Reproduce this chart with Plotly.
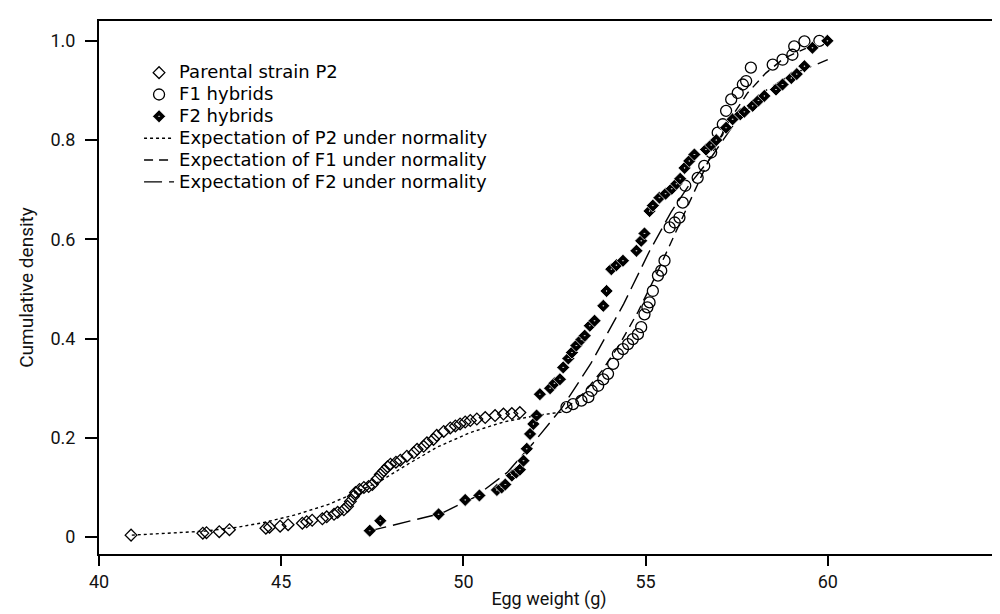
import plotly.graph_objects as go

p2_x = [40.88, 42.85, 42.95, 43.30, 43.58, 44.58, 44.68, 44.97, 45.19, 45.58, 45.70, 45.85,
        46.13, 46.25, 46.45, 46.55, 46.72, 46.82, 46.90, 46.98, 47.04, 47.15, 47.27, 47.40,
        47.50, 47.63, 47.72, 47.82, 47.92, 48.00, 48.15, 48.27, 48.45, 48.64, 48.73, 48.91,
        49.00, 49.18, 49.27, 49.46, 49.64, 49.78, 49.91, 50.05, 50.19, 50.37, 50.60, 50.87,
        51.10, 51.33, 51.55]
p2_y = [0.004, 0.008, 0.009, 0.011, 0.015, 0.018, 0.020, 0.022, 0.025, 0.028, 0.031, 0.034,
        0.037, 0.041, 0.046, 0.050, 0.055, 0.062, 0.072, 0.082, 0.090, 0.096, 0.100, 0.102,
        0.106, 0.117, 0.126, 0.134, 0.142, 0.147, 0.151, 0.155, 0.163, 0.170, 0.177, 0.183,
        0.190, 0.197, 0.205, 0.213, 0.220, 0.224, 0.228, 0.232, 0.235, 0.238, 0.241, 0.245,
        0.248, 0.249, 0.251]

f1_x = [52.83, 53.01, 53.24, 53.43, 53.52, 53.70, 53.84, 53.97, 54.11, 54.24, 54.38, 54.52,
        54.65, 54.79, 54.88, 54.97, 55.05, 55.11, 55.20, 55.34, 55.43, 55.52, 55.66, 55.80,
        55.93, 56.02, 56.09, 56.43, 56.61, 56.80, 56.98, 57.12, 57.21, 57.35, 57.53, 57.67,
        57.76, 57.89, 58.49, 58.76, 59.03, 59.08, 59.36, 59.77]
f1_y = [0.262, 0.268, 0.275, 0.282, 0.295, 0.305, 0.318, 0.329, 0.349, 0.369, 0.379, 0.389,
        0.399, 0.409, 0.423, 0.449, 0.463, 0.473, 0.496, 0.527, 0.537, 0.557, 0.624, 0.634,
        0.644, 0.674, 0.708, 0.724, 0.748, 0.775, 0.815, 0.832, 0.859, 0.882, 0.895, 0.912,
        0.919, 0.946, 0.952, 0.962, 0.972, 0.989, 0.999, 1.000]

f2_x = [47.43, 47.72, 49.32, 50.05, 50.44, 50.92, 51.05, 51.15, 51.33, 51.45, 51.55, 51.65,
        51.74, 51.83, 51.92, 52.01, 52.10, 52.38, 52.50, 52.65, 52.74, 52.88, 52.98, 53.10,
        53.24, 53.33, 53.47, 53.60, 53.84, 53.93, 54.06, 54.20, 54.38, 54.75, 54.88, 54.97,
        55.11, 55.20, 55.38, 55.55, 55.72, 55.85, 55.95, 56.07, 56.20, 56.34, 56.66, 56.80,
        56.94, 57.21, 57.39, 57.60, 57.71, 57.94, 58.10, 58.26, 58.58, 58.76, 59.00, 59.15,
        59.36, 59.58, 59.99]
f2_y = [0.013, 0.033, 0.046, 0.075, 0.084, 0.095, 0.100, 0.106, 0.124, 0.130, 0.136, 0.154,
        0.178, 0.208, 0.228, 0.245, 0.288, 0.300, 0.310, 0.318, 0.342, 0.360, 0.372, 0.386,
        0.398, 0.406, 0.426, 0.436, 0.466, 0.496, 0.540, 0.548, 0.557, 0.577, 0.597, 0.612,
        0.657, 0.668, 0.684, 0.692, 0.702, 0.712, 0.722, 0.744, 0.758, 0.771, 0.781, 0.790,
        0.800, 0.825, 0.842, 0.852, 0.857, 0.869, 0.880, 0.889, 0.902, 0.912, 0.925, 0.933,
        0.949, 0.986, 1.000]

# Expected curves under normality
exp_p2_x = [40.9, 41.8, 42.9, 43.8, 44.5, 45.4, 46.3, 46.9, 47.7, 48.5, 49.3, 50.2, 51.1, 52.0, 52.7]
exp_p2_y = [0.004, 0.007, 0.012, 0.020, 0.029, 0.045, 0.066, 0.085, 0.112, 0.148, 0.182, 0.211,
            0.232, 0.245, 0.252]

exp_f1_x = [52.8, 53.3, 53.8, 54.3, 54.8, 55.3, 55.8, 56.3, 56.8, 57.3, 57.8, 58.3, 58.8, 59.4]
exp_f1_y = [0.258, 0.290, 0.335, 0.390, 0.455, 0.530, 0.610, 0.690, 0.770, 0.840, 0.895, 0.935,
            0.965, 0.985]

exp_f2_x = [47.4, 48.4, 49.4, 50.3, 51.2, 51.9, 52.7, 53.5, 54.4, 55.1, 55.7, 56.2, 56.8, 57.5,
            58.3, 59.0, 60.0]
exp_f2_y = [0.012, 0.030, 0.048, 0.080, 0.130, 0.188, 0.260, 0.350, 0.470, 0.575, 0.655, 0.710,
            0.765, 0.840, 0.900, 0.932, 0.962]

x_ticks = [40, 45, 50, 55, 60]
y_ticks = [0, 0.2, 0.4, 0.6, 0.8, 1.0]
y_labels = ["0", "0.2", "0.4", "0.6", "0.8", "1.0"]


def legend_label(text):
    # bigger glyphs than the legend row height would give
    return '<span style="font-size:18px">' + text + '</span>'


fig = go.Figure()

# Expectation lines
fig.add_trace(go.Scatter(
    x=exp_p2_x, y=exp_p2_y, mode="lines",
    name=legend_label("Expectation of P2 under normality"),
    line=dict(color="black", width=1.4, dash="3px,3px"), legendrank=4
))
fig.add_trace(go.Scatter(
    x=exp_f1_x, y=exp_f1_y, mode="lines",
    name=legend_label("Expectation of F1 under normality"),
    line=dict(color="black", width=1.4, dash="9px,6px"), legendrank=5
))
fig.add_trace(go.Scatter(
    x=exp_f2_x, y=exp_f2_y, mode="lines",
    name=legend_label("Expectation of F2 under normality"),
    line=dict(color="black", width=1.4, dash="18px,7px"), legendrank=6
))

# Observed points
fig.add_trace(go.Scatter(
    x=p2_x, y=p2_y, mode="markers", name=legend_label("Parental strain P2"),
    marker=dict(symbol="diamond-open", size=9, color="black", line=dict(width=1.3)),
    legendrank=1
))
fig.add_trace(go.Scatter(
    x=f1_x, y=f1_y, mode="markers", name=legend_label("F1 hybrids"),
    marker=dict(symbol="circle-open", size=11, color="black", line=dict(width=1.3)),
    legendrank=2
))
fig.add_trace(go.Scatter(
    x=f2_x, y=f2_y, mode="markers", name=legend_label("F2 hybrids"),
    marker=dict(symbol="diamond-dot", size=10, color="black", line=dict(color="white", width=0.7)),
    legendrank=3
))

axis_font = dict(family="Roboto", size=18, color="#111")
title_font = dict(family="Roboto", size=19, color="#111")

fig.update_layout(
    width=1000, height=614,
    margin=dict(l=91, r=7, t=13, b=68),
    paper_bgcolor="white", plot_bgcolor="white",
    showlegend=True,
    legend=dict(
        x=0.0445, y=0.933, xanchor="left", yanchor="top",
        font=dict(family="DejaVu Sans", size=14.5, color="black"),
        bgcolor="rgba(0,0,0,0)", itemwidth=30, tracegroupgap=0,
        traceorder="normal"
    ),
    xaxis=dict(
        range=[40, 64.7], tickvals=x_ticks, ticks="outside", ticklen=10, tickwidth=1.5,
        tickcolor="black", showline=True, linecolor="black", linewidth=2, mirror=True,
        showgrid=False, zeroline=False, tickfont=axis_font,
        title=dict(text="Egg weight (g)", font=axis_font, standoff=2)
    ),
    yaxis=dict(
        range=[-0.034, 1.04], tickvals=y_ticks, ticktext=y_labels, ticks="outside",
        ticklen=12, tickwidth=1.5, tickcolor="black", showline=True, linecolor="black",
        linewidth=2, mirror=True, showgrid=False, zeroline=False, tickfont=axis_font,
        ticklabelstandoff=6,
        title=dict(text="Cumulative density", font=title_font, standoff=12)
    ),
)

fig.write_html("out.html")
